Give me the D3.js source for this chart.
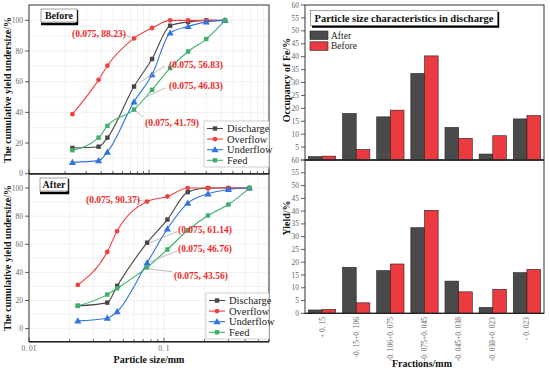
<!DOCTYPE html>
<html>
<head>
<meta charset="utf-8">
<script src="https://cdn.jsdelivr.net/npm/d3@7"></script>
<style>
  body { margin: 0; background: #fff; }
  svg text { font-family: "Liberation Serif", "Times New Roman", serif; }
  .tick-lab { fill: #666; font-size: 7.5px; }
  .title { font-weight: bold; fill: #111; }
</style>
</head>
<body>
<svg class="main" width="550" height="372"></svg>
<script>
// particle sizes (mm) of the sieve points
var sizes = [0.023, 0.038, 0.045, 0.075, 0.106, 0.15, 0.212, 0.3, 0.43];

// cumulative undersize, before
var beforeDischarge = [16.8, 17.6, 23.5, 56.83, 74.8, 96.5, 99.0, 100, 100];
var beforeOverflow  = [38.8, 61.2, 70.4, 88.23, 95.0, 100, 100, 100, 100];
var beforeUnderflow = [7.4, 8.5, 14.0, 46.83, 64.5, 91.7, 96.0, 99.0, 100];
var beforeFeed      = [15.3, 23.5, 31.2, 41.79, 54.7, 68.9, 79.7, 87.8, 100];

// cumulative undersize, after
var afterDischarge = [16.2, 18.5, 30.4, 61.14, 77.6, 97.1, 100, 100, 100];
var afterOverflow  = [31.1, 54.6, 69.4, 90.37, 94.0, 100, 100, 100, 100];
var afterUnderflow = [5.5, 7.4, 12.1, 46.76, 71.0, 89.3, 95.9, 99.0, 100];
var afterFeed      = [16.2, 24.2, 28.7, 43.56, 56.3, 70.0, 80.5, 88.3, 100];

var seriesNames = ["Discharge", "Overflow", "Underflow", "Feed"];

// bar chart
var fractions = ["+ 0. 15", "-0. 15+0. 106", "-0. 106+0. 075", "-0. 075+0. 045",
                 "-0. 045+0. 038", "-0. 038+0. 023", "- 0. 023"];
var afterYield  = [1.3, 18.0, 16.7, 33.5, 12.6, 2.3, 15.9];
var beforeYield = [1.5, 4.1, 19.3, 40.3, 8.4, 9.4, 17.2];

var yTicksLeft = [0, 20, 40, 60, 80, 100];
var yTicksRight = [0, 5, 10, 15, 20, 25, 30, 35, 40, 45, 50, 55, 60];

var colors = { Discharge: "#474747", Overflow: "#f23f3f", Underflow: "#2f74e0", Feed: "#3fb06c" };
var barColors = { After: "#4a4a4a", Before: "#ec3b40" };

var svg = d3.select("svg.main");

/* =========================
   Left: cumulative curves
========================= */
function minorLogTicks(lo, hi) {
    var ret = [];
    for (var e = -2; e <= 0; e++) {
        for (var m = 1; m <= 9; m++) {
            var v = m * Math.pow(10, e);
            if (v >= lo * 0.999 && v <= hi * 1.001) ret.push(v);
        }
    }
    return ret;
}

function marker(g, name, x, y) {
    var c = colors[name];
    if (name === "Overflow") {
        g.append("circle").attr("cx", x).attr("cy", y).attr("r", 2.4).attr("fill", c);
    } else if (name === "Underflow") {
        g.append("path").attr("d", d3.symbol(d3.symbolTriangle, 22)())
            .attr("transform", "translate(" + x + "," + (y + 0.5) + ")").attr("fill", c);
    } else {
        g.append("rect").attr("x", x - 2.2).attr("y", y - 2.2).attr("width", 4.4).attr("height", 4.4).attr("fill", c);
    }
}

function drawCurvePanel(opt) {
    var g = svg.append("g");
    var x = d3.scaleLog().domain(opt.xdom).range([29, 269]);
    var y = d3.scaleLinear().domain(opt.ydom).range([opt.bottom, opt.top]);
    var xt = minorLogTicks(opt.xdom[0], opt.xdom[1]);

    // grid
    g.selectAll("line.vg").data(xt).enter().append("line")
        .attr("x1", function (d) { return x(d); }).attr("x2", function (d) { return x(d); })
        .attr("y1", opt.top).attr("y2", opt.bottom)
        .attr("stroke", "#ececec").attr("stroke-width", 0.7);
    var hg = d3.range(-10, 111, 10).filter(function (v) { return v > opt.ydom[0] && v < opt.ydom[1]; });
    g.selectAll("line.hg").data(hg).enter().append("line")
        .attr("x1", 29).attr("x2", 269)
        .attr("y1", function (d) { return y(d); }).attr("y2", function (d) { return y(d); })
        .attr("stroke", "#ececec").attr("stroke-width", 0.7);

    // frame
    g.append("rect").attr("x", 29).attr("y", opt.top).attr("width", 240).attr("height", opt.bottom - opt.top)
        .attr("fill", "none").attr("stroke", "#333").attr("stroke-width", 1);
    g.append("line").attr("x1", 29).attr("x2", 269).attr("y1", opt.bottom).attr("y2", opt.bottom)
        .attr("stroke", "#222").attr("stroke-width", 1.4);

    // x ticks (inward)
    g.selectAll("line.xt").data(xt).enter().append("line")
        .attr("x1", function (d) { return x(d); }).attr("x2", function (d) { return x(d); })
        .attr("y1", opt.bottom).attr("y2", function (d) {
            var major = Math.abs(Math.log10(d) - Math.round(Math.log10(d))) < 1e-6;
            return opt.bottom - (major ? 4 : 2.5);
        })
        .attr("stroke", "#333").attr("stroke-width", 0.8);

    // y ticks (outward)
    g.selectAll("line.yt").data(yTicksLeft).enter().append("line")
        .attr("x1", 25).attr("x2", 29)
        .attr("y1", function (d) { return y(d); }).attr("y2", function (d) { return y(d); })
        .attr("stroke", "#333").attr("stroke-width", 0.8);
    g.selectAll("text.yl").data(yTicksLeft).enter().append("text")
        .attr("class", "tick-lab").attr("text-anchor", "end")
        .attr("x", 23).attr("y", function (d) { return y(d) + 2.6; })
        .text(function (d) { return d; });

    // curves
    var line = d3.line().curve(d3.curveMonotoneX)
        .x(function (d) { return x(d[0]); }).y(function (d) { return y(d[1]); });
    seriesNames.forEach(function (name, i) {
        var pts = sizes.map(function (s, j) { return [s, opt.data[i][j]]; });
        g.append("path").attr("d", line(pts)).attr("fill", "none")
            .attr("stroke", colors[name]).attr("stroke-width", 1.1);
    });
    seriesNames.forEach(function (name, i) {
        sizes.forEach(function (s, j) { marker(g, name, x(s), y(opt.data[i][j])); });
    });

    // annotations at 0.075
    opt.notes.forEach(function (n) {
        var v = opt.data[n.series][3];
        g.append("line").attr("x1", n.lx1).attr("y1", n.ly1).attr("x2", n.lx2).attr("y2", n.ly2)
            .attr("stroke", "#aaa").attr("stroke-width", 0.8);
        g.append("text").attr("x", n.tx).attr("y", n.ty)
            .attr("fill", "#f02828").attr("font-weight", "bold").attr("font-size", "9.5px")
            .text("(0.075, " + v.toFixed(2) + ")");
    });

    // tag box (Before / After)
    var tb = g.append("g");
    tb.append("path").attr("d", "M" + (opt.tagX + opt.tagW) + "," + (opt.top + 5) + " v" + 14 + " h-" + opt.tagW)
        .attr("fill", "none").attr("stroke", "#000").attr("stroke-width", 2.4);
    tb.append("rect").attr("x", opt.tagX).attr("y", opt.top + 4).attr("width", opt.tagW).attr("height", 13)
        .attr("fill", "#fff").attr("stroke", "#666").attr("stroke-width", 0.6);
    tb.append("text").attr("class", "title").attr("font-size", "10px")
        .attr("x", opt.tagX + opt.tagW / 2).attr("y", opt.top + 14.2).attr("text-anchor", "middle")
        .text(opt.tag);

    // legend
    var lg = g.append("g").attr("transform", "translate(" + opt.legX + "," + opt.legY + ")");
    lg.append("rect").attr("x", 0).attr("y", 0).attr("width", 269 - opt.legX).attr("height", 46)
        .attr("fill", "#fff").attr("stroke", "#bbb").attr("stroke-width", 0.7);
    seriesNames.forEach(function (name, i) {
        var yy = 7.5 + i * 10.6;
        lg.append("line").attr("x1", 3).attr("x2", 19).attr("y1", yy).attr("y2", yy)
            .attr("stroke", colors[name]).attr("stroke-width", 1.1);
        marker(lg, name, 11, yy);
        lg.append("text").attr("x", 23).attr("y", yy + 3.4).attr("font-size", "10.5px").attr("fill", "#222")
            .text(name);
    });

    return x;
}

drawCurvePanel({
    xdom: [0.01, 1], ydom: [0, 110], top: 5, bottom: 173.7,
    data: [beforeDischarge, beforeOverflow, beforeUnderflow, beforeFeed],
    tag: "Before", tagX: 41, tagW: 36, legX: 204, legY: 121,
    notes: [
        { series: 1, tx: 72, ty: 36.5, lx1: 121, ly1: 33.5, lx2: 131, ly2: 37.5 },
        { series: 0, tx: 169, ty: 67.5, lx1: 165, ly1: 66, lx2: 139, ly2: 83 },
        { series: 2, tx: 169, ty: 88.5, lx1: 165, ly1: 88, lx2: 146, ly2: 97 },
        { series: 3, tx: 145, ty: 126, lx1: 143, ly1: 117, lx2: 136, ly2: 111 }
    ]
});

var xBottom = drawCurvePanel({
    xdom: [0.01, 0.6], ydom: [-9.3, 110], top: 174, bottom: 341.7,
    data: [afterDischarge, afterOverflow, afterUnderflow, afterFeed],
    tag: "After", tagX: 40, tagW: 28, legX: 206, legY: 293,
    notes: [
        { series: 1, tx: 86, ty: 202.5, lx1: 135, ly1: 199.3, lx2: 145, ly2: 201.5 },
        { series: 0, tx: 178, ty: 232.5, lx1: 177, ly1: 231.7, lx2: 149, ly2: 243 },
        { series: 2, tx: 178, ty: 252, lx1: 177, ly1: 251, lx2: 150, ly2: 262 },
        { series: 3, tx: 174, ty: 278.5, lx1: 172, ly1: 271.7, lx2: 149, ly2: 269 }
    ]
});

// bottom x axis labels
[[0.01, "0. 01"], [0.1, "0. 1"]].forEach(function (t) {
    svg.append("text").attr("class", "tick-lab").attr("text-anchor", "middle")
        .attr("x", xBottom(t[0])).attr("y", 351).text(t[1]);
});
svg.append("text").attr("class", "title").attr("font-size", "10px").attr("text-anchor", "middle")
    .attr("x", 149).attr("y", 363).text("Particle size/mm");
[90, 258].forEach(function (cy) {
    svg.append("text").attr("class", "title").attr("font-size", "10px").attr("text-anchor", "middle")
        .attr("transform", "translate(11," + cy + ") rotate(-90)")
        .text("The cumulative yield undersize/%");
});

/* =========================
   Right: bar charts
========================= */
var xBand = d3.scaleBand().domain(fractions).range([305, 544]).paddingInner(0.2).paddingOuter(0.1);
var xSub = d3.scaleBand().domain(["After", "Before"]).range([0, xBand.bandwidth()]);

function drawBarPanel(top, bottom, ylabel, ly) {
    var g = svg.append("g");
    var y = d3.scaleLinear().domain([0, 60]).range([bottom, top]);
    [["After", afterYield], ["Before", beforeYield]].forEach(function (s) {
        g.selectAll("rect.b" + s[0]).data(s[1]).enter().append("rect")
            .attr("x", function (d, i) { return xBand(fractions[i]) + xSub(s[0]); })
            .attr("y", function (d) { return y(d); })
            .attr("width", xSub.bandwidth())
            .attr("height", function (d) { return y(0) - y(d); })
            .attr("fill", barColors[s[0]]).attr("stroke", "#222").attr("stroke-width", 0.6);
    });
    g.append("rect").attr("x", 305).attr("y", top).attr("width", 239).attr("height", bottom - top)
        .attr("fill", "none").attr("stroke", "#333").attr("stroke-width", 1);
    g.append("line").attr("x1", 305).attr("x2", 544).attr("y1", bottom).attr("y2", bottom)
        .attr("stroke", "#222").attr("stroke-width", 1.3);
    g.selectAll("line.yt").data(yTicksRight).enter().append("line")
        .attr("x1", 301).attr("x2", 305)
        .attr("y1", function (d) { return y(d); }).attr("y2", function (d) { return y(d); })
        .attr("stroke", "#333").attr("stroke-width", 0.8);
    g.selectAll("text.yl").data(yTicksRight.filter(function (d) { return top > 100 || d > 0; }))
        .enter().append("text")
        .attr("class", "tick-lab").attr("text-anchor", "end")
        .attr("x", 299).attr("y", function (d) { return y(d) + 2.6; })
        .text(function (d) { return d; });
    g.append("text").attr("class", "title").attr("font-size", "10px").attr("text-anchor", "middle")
        .attr("transform", "translate(290," + ly + ") rotate(-90)").text(ylabel);
    return y;
}

drawBarPanel(5, 160, "Occupancy of Fe/%", 80);
drawBarPanel(160, 313.3, "Yield/%", 218);

// category labels
svg.selectAll("text.cat").data(fractions).enter().append("text")
    .attr("class", "tick-lab").attr("font-size", "7px").attr("text-anchor", "end")
    .attr("transform", function (d) {
        return "translate(" + (xBand(d) + xBand.bandwidth() / 2 + 2.5) + ",317) rotate(-90)";
    })
    .text(function (d) { return d; });
svg.append("text").attr("class", "title").attr("font-size", "10px").attr("text-anchor", "middle")
    .attr("x", 422).attr("y", 367).text("Fractions/mm");

// title box
svg.append("path").attr("d", "M498,12 v14.5 h-186").attr("fill", "none").attr("stroke", "#000").attr("stroke-width", 2.4);
svg.append("rect").attr("x", 310.5).attr("y", 10.5).attr("width", 187).attr("height", 15)
    .attr("fill", "#fff").attr("stroke", "#666").attr("stroke-width", 0.6);
svg.append("text").attr("class", "title").attr("font-size", "10.5px").attr("text-anchor", "middle")
    .attr("x", 404).attr("y", 21.5).text("Particle size characteristics in discharge");

// bar legend
var blg = svg.append("g").attr("transform", "translate(309,30)");
[["After", 0], ["Before", 10.8]].forEach(function (e) {
    blg.append("rect").attr("x", 1).attr("y", e[1] + 1).attr("width", 18).attr("height", 8.5)
        .attr("fill", barColors[e[0]]).attr("stroke", "#222").attr("stroke-width", 0.6);
    blg.append("text").attr("x", 22).attr("y", e[1] + 8.5).attr("font-size", "9.5px").attr("fill", "#222")
        .text(e[0]);
});
</script>
</body>
</html>
